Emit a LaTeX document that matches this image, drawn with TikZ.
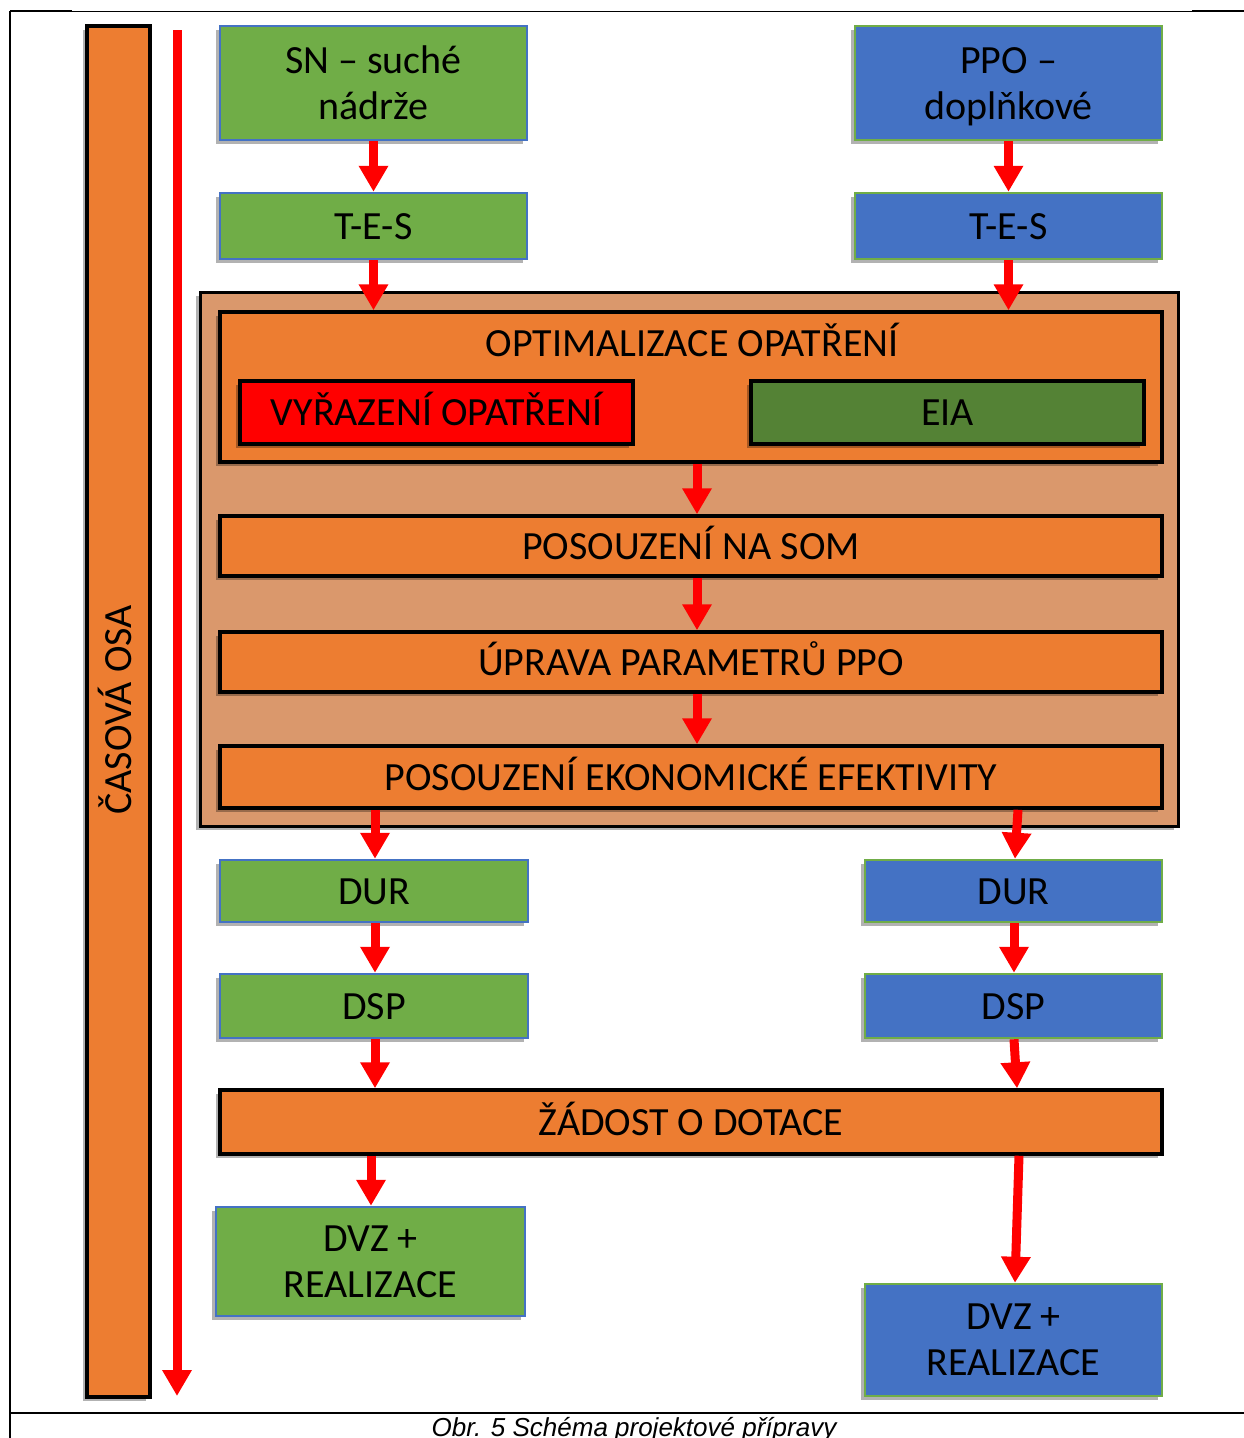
\documentclass[tikz,border=0pt]{standalone}
\usepackage{fontspec}
\setmainfont{Carlito}
\newfontfamily\capfont{Liberation Sans}
\usetikzlibrary{arrows.meta,shadows}
\definecolor{cOrange}{HTML}{ED7D31}
\definecolor{cGreen}{HTML}{70AD47}
\definecolor{cBlue}{HTML}{4472C4}
\definecolor{cLight}{RGB}{218,152,108}
\definecolor{cDark}{HTML}{548235}
\begin{document}
\begin{tikzpicture}[x=1pt,y=-1pt,
  every node/.style={font=\fontsize{40}{46}\selectfont, inner sep=0pt},
  shad/.style={drop shadow={shadow xshift=-4pt, shadow yshift=-4pt, opacity=0.3, fill=black}},
  box/.style={line width=2.5pt, align=center, shad},
  gbox/.style={box, draw=cBlue, fill=cGreen},
  bbox/.style={box, draw=cGreen, fill=cBlue},
  kbox/.style={box, draw=black, line width=3.5pt},
  obox/.style={kbox, fill=cOrange},
  one/.style={text height=26pt, text depth=0pt},
  arr/.style={draw=red, line width=9pt, -{Triangle[width=28pt,length=26pt]}},
  frame/.style={draw=black, line width=2pt}
]
\useasboundingbox[fill=white] (0,0) rectangle (1244,1438);

% frame of the table cell
\draw[frame] (10,11) -- (10,1440);
\draw[frame] (10,11) -- (72,11);
\draw[draw=black, line width=1pt] (72,11) -- (1192,11);
\draw[frame] (1192,11) -- (1244,11);
\draw[draw=black, line width=2.5pt] (10,1413) -- (1244,1413);
\node[font=\capfont\itshape\fontsize{26}{30}\selectfont, anchor=base] (cap) at (634,1436) {Obr. 5 Schéma projektové přípravy};

% time axis
\node[obox, minimum width=63pt, minimum height=1371pt] (axis) at (118.5,711.5) {};
\node[rotate=90, one] (axislbl) at (118,710) {ČASOVÁ OSA};
\coordinate (tA) at (177,30);
\coordinate (tB) at (177,1396);

% top boxes
\node[gbox, minimum width=307pt, minimum height=114pt] (sn) at (373.5,83) {SN – suché\\nádrže};
\node[gbox, one, minimum width=307pt, minimum height=66pt] (tesL) at (373.5,226) {T-E-S};
\node[bbox, minimum width=307pt, minimum height=114pt] (ppo) at (1008.5,83) {};
\node[align=center] (ppotxt) at (1008.5,87) {PPO –\\doplňkové};
\node[bbox, one, minimum width=307pt, minimum height=66pt] (tesR) at (1008.5,226) {T-E-S};

% big block
\node[kbox, fill=cLight, line width=3pt, minimum width=978pt, minimum height=534pt] (outer) at (689,559) {};
\node[obox, minimum width=942pt, minimum height=150pt] (opt) at (691,387) {};
\node[one] (opttitle) at (692,343) {OPTIMALIZACE OPATŘENÍ};
\node[kbox, one, fill=red, minimum width=393pt, minimum height=63pt] (vyr) at (436.5,412.5) {VYŘAZENÍ OPATŘENÍ};
\node[kbox, one, fill=cDark, minimum width=393pt, minimum height=63pt] (eia) at (947.5,412.5) {EIA};
\node[obox, one, minimum width=942pt, minimum height=60pt] (som) at (691,546) {POSOUZENÍ NA SOM};
\node[obox, one, minimum width=942pt, minimum height=60pt] (upr) at (691,662) {ÚPRAVA PARAMETRŮ PPO};
\node[obox, one, minimum width=942pt, minimum height=62pt] (ekon) at (691,777) {POSOUZENÍ EKONOMICKÉ EFEKTIVITY};

% lower boxes
\node[gbox, one, minimum width=308pt, minimum height=62pt] (durL) at (374,891) {DUR};
\node[bbox, one, minimum width=297pt, minimum height=62pt] (durR) at (1013.5,891) {DUR};
\node[gbox, one, minimum width=308pt, minimum height=64pt] (dspL) at (374,1006) {DSP};
\node[bbox, one, minimum width=297pt, minimum height=64pt] (dspR) at (1013.5,1006) {DSP};
\node[obox, one, minimum width=942pt, minimum height=64pt] (zad) at (691,1122) {ŽÁDOST O DOTACE};
\node[gbox, minimum width=309pt, minimum height=109pt] (dvzL) at (370.5,1261.5) {DVZ +\\REALIZACE};
\node[bbox, minimum width=297pt, minimum height=112pt] (dvzR) at (1013.5,1340) {DVZ +\\REALIZACE};

% arrows
\draw[arr] (tA) -- (tB);
\draw[arr] (sn.south) -- (tesL.north);
\draw[arr] (ppo.south) -- (tesR.north);
\draw[arr] (tesL.south) -- (tesL.south |- opt.north);
\draw[arr] (tesR.south) -- (tesR.south |- opt.north);
\draw[arr] (opt.south -| 697,0) -- (som.north -| 697,0);
\draw[arr] (som.south -| 697,0) -- (upr.north -| 697,0);
\draw[arr] (upr.south -| 697,0) -- (ekon.north -| 697,0);
\draw[arr] (ekon.south -| 375,0) -- (durL.north -| 375,0);
\draw[arr] (ekon.south -| 1018,0) -- (durR.north -| 1015,0);
\draw[arr] (durL.south -| 375,0) -- (dspL.north -| 375,0);
\draw[arr] (durR.south -| 1014,0) -- (dspR.north -| 1014,0);
\draw[arr] (dspL.south -| 375,0) -- (zad.north -| 375,0);
\draw[arr] (dspR.south -| 1014,0) -- (zad.north -| 1017,0);
\draw[arr] (zad.south -| 371,0) -- (dvzL.north -| 371,0);
\draw[arr] (zad.south -| 1019,0) -- (dvzR.north -| 1015,0);
\end{tikzpicture}
\end{document}
